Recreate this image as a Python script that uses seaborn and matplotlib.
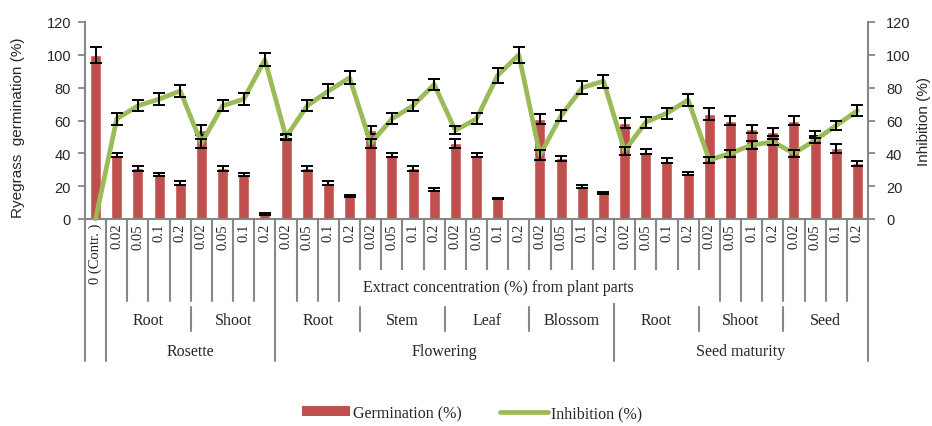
import matplotlib
matplotlib.use("Agg")
import matplotlib.pyplot as plt
import matplotlib.transforms as mtransforms
from matplotlib.lines import Line2D
from matplotlib.patches import Patch, Rectangle
import numpy as np
import pandas as pd
import seaborn as sns

# ---- data -------------------------------------------------------------
control_label = "0 (Contr. )"
concentrations = ["0.02", "0.05", "0.1", "0.2"]
stages = ["Rosette", "Flowering", "Seed maturity"]
plant_parts = [
    ("Rosette", "Root"), ("Rosette", "Shoot"),
    ("Flowering", "Root"), ("Flowering", "Stem"),
    ("Flowering", "Leaf"), ("Flowering", "Blossom"),
    ("Seed maturity", "Root"), ("Seed maturity", "Shoot"),
    ("Seed maturity", "Seed"),
]
germination = [100,
               39, 31, 27, 22, 54, 31, 27, 3,
               50, 31, 22, 14, 54, 39, 31, 18,
               46, 39, 12.5, 0, 61, 37, 20, 16,
               58.5, 41, 35.5, 27.5, 64, 60, 55, 53,
               60, 52, 43, 34]
germination_err = [5,
                   1.5, 1.5, 1, 1, 3, 1.5, 1, 0.5,
                   1, 1.5, 1, 0.5, 2.5, 1.5, 1.5, 1,
                   2.5, 1.5, 0.5, 0, 3, 1.5, 1, 0.5,
                   3, 1.5, 1.5, 1, 3.5, 3, 2.5, 2.3,
                   3, 1.5, 2.5, 1.5]
inhibition = [0,
              61, 69, 73, 78, 46, 69, 73, 97,
              50, 69, 78, 86, 46, 61, 69, 82,
              54, 61, 87.5, 100, 39, 63, 80, 84,
              41.5, 59, 64.5, 72.5, 36, 40, 45, 47,
              40, 48, 57, 66]
inhibition_err = [0,
                  3.5, 3.3, 3.5, 3.5, 3, 3.3, 3.5, 4,
                  2, 3.5, 4, 4, 3, 3.4, 3.3, 3.5,
                  2.5, 3.4, 4.5, 5, 3, 3.3, 4, 4,
                  2.5, 3.3, 3.3, 3.7, 2, 2, 2.5, 2,
                  2, 1.5, 3, 3.3]

# ---- style ------------------------------------------------------------
sns.set_theme(style="white")
plt.rcParams["font.family"] = ["Liberation Sans", "DejaVu Sans"]
SERIF = ["Liberation Serif", "DejaVu Serif"]
RED = "#C0504D"
GREEN = "#9BBB59"
GRAY = "#878787"

W, H = 932, 427
fig = plt.figure(figsize=(W / 100, H / 100), dpi=100)


def fx(px):
    return px / W


def fy(py):
    return 1 - py / H


ax = fig.add_axes([fx(85), fy(220), fx(868) - fx(85), fy(23) - fy(220)])

n = len(germination)
pos = np.arange(n)
df = pd.DataFrame({"slot": pos, "germination": germination,
                   "inhibition": inhibition,
                   "germination_err": germination_err,
                   "inhibition_err": inhibition_err})

sns.barplot(data=df, x="slot", y="germination", ax=ax, color=RED,
            saturation=1, width=0.52, errorbar=None, zorder=2)
g_err = df[df["germination_err"] > 0]
ax.errorbar(g_err["slot"], g_err["germination"], yerr=g_err["germination_err"],
            fmt="none", ecolor="black", elinewidth=1.4, capsize=4,
            capthick=1.4, zorder=3)

ax.set_xlim(-0.5, n - 0.5)
ax.set_ylim(0, 120)
ax.set_yticks(range(0, 121, 20))
ax.set_xticks([])
ax.set_xlabel("")
ax.set_ylabel("")

ax2 = ax.twinx()
sns.lineplot(data=df, x="slot", y="inhibition", ax=ax2, color=GREEN,
             linewidth=3.4, zorder=2)
for ln in ax2.get_lines():
    ln.set_clip_on(False)
i_err = df[df["inhibition_err"] > 0]
ax2.errorbar(i_err["slot"], i_err["inhibition"], yerr=i_err["inhibition_err"],
             fmt="none", ecolor="black", elinewidth=1.4, capsize=4,
             capthick=1.4, zorder=3)
ax2.set_ylim(0, 120)
ax2.set_yticks(range(0, 121, 20))
ax2.set_xlim(-0.5, n - 0.5)
ax2.set_ylabel("")
ax2.set_xlabel("")

for a in (ax, ax2):
    for s in a.spines.values():
        s.set_visible(False)
ax.spines["left"].set_visible(True)
ax.spines["bottom"].set_visible(True)
ax2.spines["right"].set_visible(True)
for s in (ax.spines["left"], ax.spines["bottom"], ax2.spines["right"]):
    s.set_color(GRAY)
    s.set_linewidth(1.5)

ax.tick_params(axis="y", direction="out", length=5, width=1.3, color=GRAY,
               labelsize=10.5, pad=5, left=True)
ax.tick_params(axis="x", bottom=False)
ax2.tick_params(axis="y", direction="out", length=5, width=1.3, color=GRAY,
                labelsize=10.5, pad=8, right=True)

fig.text(fx(18), fy(128), "Ryegrass  germination (%)", rotation=90,
         ha="center", va="center", fontsize=11)
fig.text(fx(924), fy(121), "Inhibition (%)", rotation=90,
         ha="center", va="center", fontsize=11)

# ---- hierarchical category axis ----------------------------------------
trans = mtransforms.blended_transform_factory(ax.transData, fig.transFigure)


def vline(xb, y0, y1):
    fig.add_artist(Line2D([xb, xb], [fy(y0), fy(y1)], transform=trans,
                          color=GRAY, lw=1.5, clip_on=False, zorder=1))


labels = [control_label] + concentrations * len(plant_parts)
for i, lab in enumerate(labels):
    fig.text(i, fy(224), lab, transform=trans, rotation=90, ha="center",
             va="top", family=SERIF, fontsize=10.5)

stage_edges = {-0.5}
group_edges = set()
start = 1
for k, (stage, part) in enumerate(plant_parts):
    end = start + len(concentrations)
    fig.text((start + end - 1) / 2, fy(321), part, transform=trans,
             ha="center", va="center", family=SERIF, fontsize=11.5)
    if k + 1 == len(plant_parts) or plant_parts[k + 1][0] != stage:
        stage_edges.add(end - 0.5)
    else:
        group_edges.add(end - 0.5)
    start = end
stage_edges.add(0.5)

start = 1
for stage in stages:
    count = sum(1 for s, _ in plant_parts if s == stage) * len(concentrations)
    fig.text(start + (count - 1) / 2, fy(352), stage, transform=trans,
             ha="center", va="center", family=SERIF, fontsize=11.5)
    start += count

for b in np.arange(-0.5, n, 1.0):
    if b in stage_edges:
        vline(b, 220, 362)
    elif b in group_edges:
        vline(b, 220, 302)
        vline(b, 308, 332)
    else:
        vline(b, 220, 302)

fig.add_artist(Rectangle((fx(345), fy(304)), fx(712) - fx(345),
                         fy(271) - fy(304), transform=fig.transFigure,
                         facecolor="white", edgecolor="none", zorder=2))
fig.text(fx(498), fy(288), "Extract concentration (%) from plant parts",
         ha="center", va="center", family=SERIF, fontsize=11.5, zorder=3)

# ---- legend -------------------------------------------------------------
handles = [Patch(facecolor=RED, edgecolor="none"),
           Line2D([0], [0], color=GREEN, lw=3.4)]
fig.legend(handles, ["Germination (%)", "Inhibition (%)"], loc="center",
           bbox_to_anchor=(fx(472), fy(414)), ncol=2, frameon=False,
           prop={"family": SERIF, "size": 11.5}, handlelength=3.0,
           handleheight=0.6, handletextpad=0.2, columnspacing=2.4,
           borderpad=0.1)

fig.savefig("out.png", dpi=100)
